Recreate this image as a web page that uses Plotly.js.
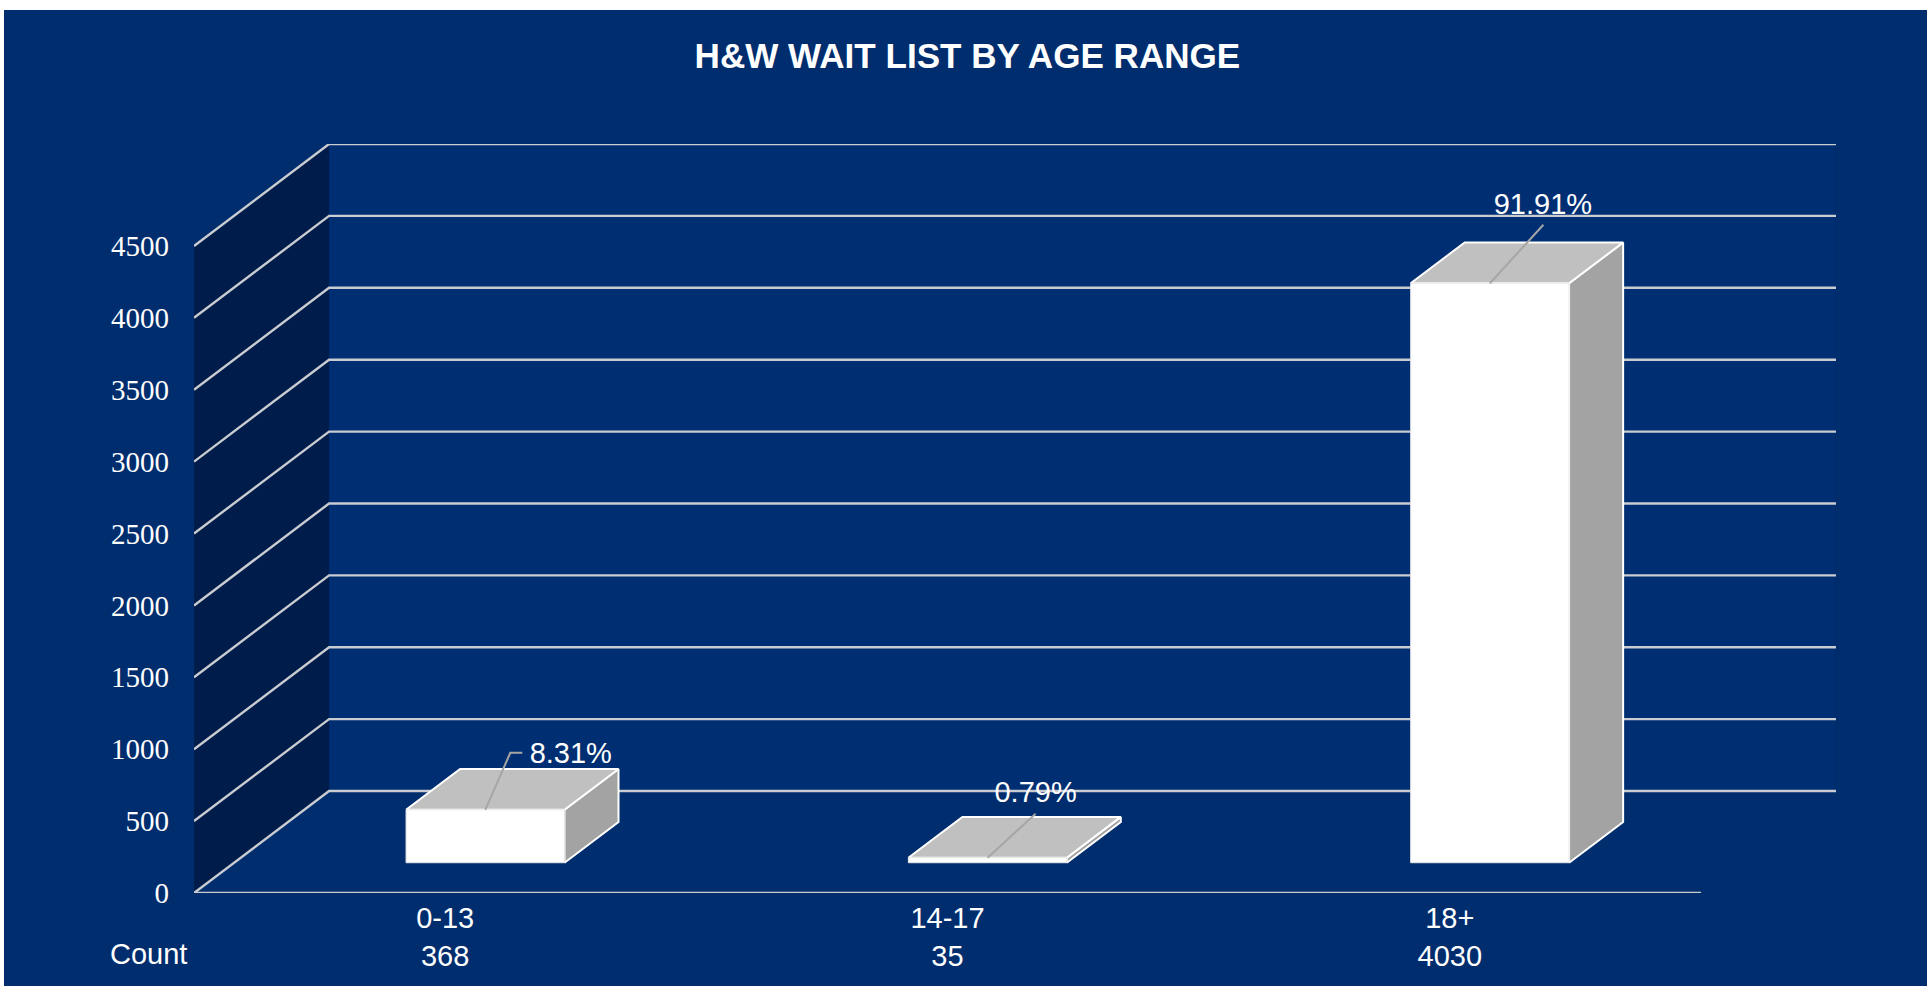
<!DOCTYPE html>
<html>
<head>
<meta charset="utf-8">
<title>H&amp;W Wait List by Age Range</title>
<script src="https://cdn.plot.ly/plotly-3.0.1.min.js"></script>
<style>
  html, body { margin: 0; padding: 0; background: #ffffff; overflow: hidden; }
  #chart { position: absolute; left: 4px; top: 10px; width: 1923px; height: 976px; }
</style>
</head>
<body>
<div id="chart"></div>
<script>
// ---- data ----
const chartTitle = 'H&W WAIT LIST BY AGE RANGE';
const categories = ['0-13', '14-17', '18+'];
const counts = [368, 35, 4030];
const shareLabels = ['8.31%', '0.79%', '91.91%'];
const axisTicks = [0, 500, 1000, 1500, 2000, 2500, 3000, 3500, 4000, 4500];
const countRowLabel = 'Count';

// ---- styling ----
const PAPER = '#002d6e', WALL_BACK = '#002e72', WALL_SIDE = '#001c4a';
const GRID = '#c9ccd1', FACE = '#ffffff', TOPFACE = '#c0c0c0', SIDE = '#a3a3a3', LEADER = '#a6a6a6';

// ---- oblique projection, expressed in axis units ----
const plotW = 1641.6, plotH = 749.6;          // plot area in pixels
const xLo = -0.5, axisHi = 2.5;               // the floor's front edge
const depthX = 0.2689, depthY = 709;          // how far the depth direction shifts x and y
const wallTop = axisTicks[axisTicks.length - 1];
const xHi = axisHi + depthX, yHi = wallTop + depthY;
const pxX = (xHi - xLo) / plotW, pxY = yHi / plotH;   // axis units per pixel
const barHalf = 0.1577, barFront = 0.297, barBack = 0.697;
const project = (x, v, d) => [x + d * depthX, v + d * depthY];

function polygon(points, fill, line, width) {
  return {
    type: 'scatter', mode: 'lines', x: points.map(p => p[0]), y: points.map(p => p[1]),
    fill: 'toself', fillcolor: fill, line: { color: line, width: width },
    cliponaxis: false, hoverinfo: 'skip', showlegend: false
  };
}
function polyline(xs, ys, color, width) {
  return {
    type: 'scatter', mode: 'lines', x: xs, y: ys, line: { color: color, width: width },
    cliponaxis: false, hoverinfo: 'skip', showlegend: false, connectgaps: false
  };
}

const traces = [];

// walls
traces.push(polygon([project(xLo, 0, 1), project(axisHi, 0, 1), project(axisHi, wallTop, 1), project(xLo, wallTop, 1), project(xLo, 0, 1)], WALL_BACK, WALL_BACK, 0));
traces.push(polygon([project(xLo, 0, 0), project(xLo, 0, 1), project(xLo, wallTop, 1), project(xLo, wallTop, 0), project(xLo, 0, 0)], WALL_SIDE, WALL_SIDE, 0));
const edgeA = project(axisHi, 0, 1), edgeB = project(axisHi, wallTop, 1);
traces.push(polyline([edgeA[0], edgeB[0]], [edgeA[1], edgeB[1]], '#00255e', 1));

// gridlines: side wall + back wall for every tick, front edge for the floor only
const gx = [], gy = [];
axisTicks.forEach(v => {
  const a = project(xLo, v, 0), b = project(xLo, v, 1), c = project(axisHi, v, 1);
  gx.push(a[0], b[0], c[0], null);
  gy.push(a[1], b[1], c[1], null);
});
gx.push(xLo, axisHi); gy.push(0, 0);
traces.push(polyline(gx, gy, GRID, 2.4));

// bars
categories.forEach((c, i) => {
  const v = counts[i], l = i - barHalf, r = i + barHalf;
  const fbl = project(l, 0, barFront), fbr = project(r, 0, barFront);
  const ftl = project(l, v, barFront), ftr = project(r, v, barFront);
  const bbr = project(r, 0, barBack), btr = project(r, v, barBack), btl = project(l, v, barBack);
  traces.push(polygon([fbr, bbr, btr, ftr, fbr], SIDE, '#ffffff', 2));
  traces.push(polygon([ftl, ftr, btr, btl, ftl], TOPFACE, '#ffffff', 2));
  traces.push(polygon([fbl, fbr, ftr, ftl, fbl], FACE, '#e6e6e6', 1));
});

// leader lines and share labels (offsets are pixels from the middle of each bar's top-front edge)
const leaderPaths = [[[25, -57], [37, -57]], [[48, -44]], [[53.5, -58.5]]];
const labelOffsets = [[85.5, -54.5], [48, -63], [53, -77]];
const labelX = [], labelY = [];
categories.forEach((c, i) => {
  const s = project(i, counts[i], barFront);
  const lx = [s[0]], ly = [s[1]];
  leaderPaths[i].forEach(o => { lx.push(s[0] + o[0] * pxX); ly.push(s[1] - o[1] * pxY); });
  traces.push(polyline(lx, ly, LEADER, 2));
  labelX.push(s[0] + labelOffsets[i][0] * pxX);
  labelY.push(s[1] - labelOffsets[i][1] * pxY);
});
traces.push({
  type: 'scatter', mode: 'text', x: labelX, y: labelY, text: shareLabels,
  textposition: 'middle center', textfont: { family: '"Liberation Sans", Arial, sans-serif', size: 29, color: '#ffffff' },
  cliponaxis: false, hoverinfo: 'skip', showlegend: false
});

const layout = {
  width: 1923, height: 976,
  paper_bgcolor: PAPER, plot_bgcolor: 'rgba(0,0,0,0)',
  margin: { l: 190, r: 91.4, t: 133.7, b: 92.7, pad: 0 },
  showlegend: false,
  title: {
    text: chartTitle, xref: 'container', yref: 'container', x: 0.501, y: 0.9535,
    xanchor: 'center', yanchor: 'middle',
    font: { family: '"Liberation Sans", Arial, sans-serif', size: 35.1, color: '#ffffff', weight: 700 }
  },
  xaxis: {
    type: 'linear', range: [xLo, xHi], tickmode: 'array', tickvals: categories.map((c, i) => i),
    ticktext: categories.map((c, i) => c + '<br>' + counts[i]),
    showgrid: false, zeroline: false, showline: false, ticks: '', ticklabelstandoff: 5,
    tickfont: { family: '"Liberation Sans", Arial, sans-serif', size: 29, color: '#ffffff' }, fixedrange: true
  },
  yaxis: {
    type: 'linear', range: [0, yHi], tickmode: 'array', tickvals: axisTicks,
    showgrid: false, zeroline: false, showline: false, ticks: '', ticklabelstandoff: 24,
    tickfont: { family: '"Liberation Serif", "Times New Roman", serif', size: 29, color: '#ffffff' }, fixedrange: true
  },
  annotations: [{
    text: countRowLabel, xref: 'paper', yref: 'paper', x: -45 / plotW, y: -61 / plotH,
    xanchor: 'center', yanchor: 'middle', showarrow: false,
    font: { family: '"Liberation Sans", Arial, sans-serif', size: 29, color: '#ffffff' }
  }]
};

Plotly.newPlot('chart', traces, layout, { displayModeBar: false, staticPlot: true });
</script>
</body>
</html>
